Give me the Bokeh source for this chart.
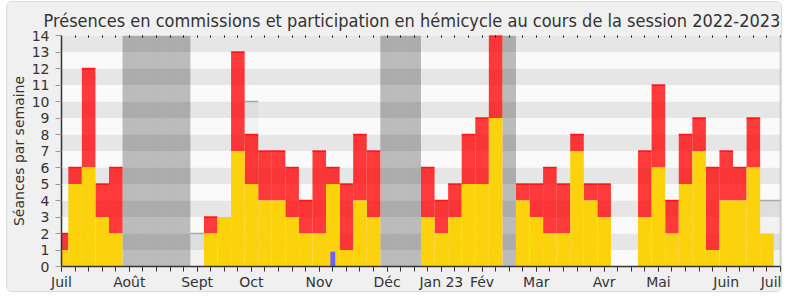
from bokeh.plotting import figure
from bokeh.models import Range1d, FixedTicker, LinearAxis, Span, ColumnDataSource
from bokeh.embed import file_html
from bokeh.resources import INLINE

# ---- data (one entry per week, week 0 = first week of July 2022) ----
weeks = list(range(53))
hemicycle = [1, 5, 6, 3, 2, 0, 0, 0, 0, 0, 0, 2, 3, 7, 5, 4, 4, 3, 2, 2, 5, 1, 4, 3,
             0, 0, 0, 3, 2, 3, 5, 5, 9, 0, 4, 3, 2, 2, 7, 4, 3, 0, 0, 3, 6, 2, 5, 7,
             1, 4, 4, 6, 2]
total = [2, 6, 12, 5, 6, 0, 0, 0, 0, 0, 0, 3, 3, 13, 8, 7, 7, 6, 4, 7, 6, 5, 8, 7,
         0, 0, 0, 6, 4, 5, 8, 9, 14, 0, 5, 5, 6, 5, 8, 5, 5, 0, 0, 7, 11, 4, 8, 9,
         6, 7, 6, 9, 2]
vacation_weeks = [5, 6, 7, 8, 9, 24, 25, 26, 33]
median_weeks = [10, 14, 52, 53]
median_values = [2, 10, 4, 4]
questions_weeks = [20]
questions_values = [0.9]
month_ticks = [0, 5, 10, 14, 19, 24, 28, 31, 35, 40, 44, 49, 53]
month_labels = ["Juil", "Août", "Sept", "Oct", "Nov", "Déc", "Jan 23", "Fév",
                "Mar", "Avr", "Mai", "Juin", "Juil"]
week_ticks = list(range(54))
y_ticks = list(range(15))

FONT = "DejaVu Sans"
TITLE_FONT = "DejaVu Sans Condensed"
TXT = "#333333"

p = figure(width=776, height=291, output_backend="svg", toolbar_location=None,
           x_range=Range1d(0, 53), y_range=Range1d(0, 14),
           min_border_left=54, min_border_right=3, min_border_top=31, min_border_bottom=27,
           border_fill_color="#f0f0f0", background_fill_color="#fafafa",
           outline_line_color=None,
           title="Présences en commissions et participation en hémicycle au cours de la session 2022-2023")
p.styles = {"margin-left": "6px", "margin-top": "1px", "border": "1px solid #dcdcdc",
            "border-radius": "6px", "overflow": "hidden", "background-color": "#f0f0f0"}
p.title.align = "left"
p.title.offset = -18
p.title.text_font = TITLE_FONT
p.title.text_font_size = "18px"
p.title.text_font_style = "normal"
p.title.text_color = TXT

p.xgrid.visible = False
p.ygrid.visible = False

# horizontal bands
band_bottom = y_ticks[:-1]
band_colors = ["#e6e6e6" if b % 2 == 1 else "#fafafa" for b in band_bottom]
p.quad(left=0, right=53, bottom=band_bottom, top=[b + 1 for b in band_bottom],
       fill_color=band_colors, line_color=None, level="underlay")

# median of deputies (visible parts)
p.quad(left=[w - 0.5 for w in median_weeks], right=[w + 0.5 for w in median_weeks],
       bottom=0, top=median_values, fill_color="black", fill_alpha=0.03, line_color=None)
p.segment(x0=[w - 0.5 for w in median_weeks], x1=[w + 0.5 for w in median_weeks],
          y0=median_values, y1=median_values, line_color="#a8a8a8", line_width=1.5)

# vacations
p.quad(left=[w - 0.5 for w in vacation_weeks], right=[w + 0.5 for w in vacation_weeks],
       bottom=0, top=14, fill_color="black", fill_alpha=0.25, line_color=None)

# bars
src = ColumnDataSource(dict(
    left=[w - 0.5 for w in weeks], right=[w + 0.5 for w in weeks],
    hem=hemicycle, tot=total))
p.quad(left="left", right="right", bottom="hem", top="tot", source=src,
       fill_color="#ff0000", fill_alpha=0.77, line_color=None)
red_w = [w for w in weeks if total[w] > hemicycle[w]]
p.segment(x0=[w - 0.5 for w in red_w], x1=[w + 0.5 for w in red_w],
          y0=[total[w] for w in red_w], y1=[total[w] for w in red_w],
          line_color="#ff0000", line_alpha=0.85, line_width=1.5)
p.quad(left="left", right="right", bottom=0, top="hem", source=src,
       fill_color="#fcd20c", line_color=None)

# questions
p.quad(left=[w - 0.18 for w in questions_weeks], right=[w + 0.18 for w in questions_weeks],
       bottom=0, top=questions_values, fill_color="#6666ff", line_color=None)

# right edge
p.add_layout(Span(location=53, dimension="height", line_color="#b4b4b4", line_width=1.5))

# axes
xa = p.xaxis[0]
xa.ticker = FixedTicker(ticks=month_ticks, minor_ticks=week_ticks)
xa.major_label_overrides = {t: l for t, l in zip(month_ticks, month_labels)}
xa.major_tick_out = 5
xa.major_tick_in = 0
xa.minor_tick_out = 5
xa.minor_tick_in = 0
xa.minor_tick_line_color = TXT
xa.major_tick_line_color = TXT
xa.axis_line_color = TXT
xa.axis_line_width = 1.5
xa.major_label_text_font = FONT
xa.major_label_text_font_size = "14px"
xa.major_label_text_color = TXT
xa.major_label_standoff = 2

ya = p.yaxis[0]
ya.ticker = FixedTicker(ticks=y_ticks, minor_ticks=[])
ya.major_tick_out = 6
ya.major_tick_in = 0
ya.minor_tick_line_color = None
ya.major_tick_line_color = "#999999"
ya.axis_line_color = TXT
ya.axis_line_width = 1.5
ya.major_label_text_font = FONT
ya.major_label_text_font_size = "14px"
ya.major_label_text_color = TXT
ya.major_label_standoff = 6
ya.axis_label = "Séances par semaine"
ya.axis_label_text_font = FONT
ya.axis_label_text_font_size = "14px"
ya.axis_label_text_font_style = "normal"
ya.axis_label_text_color = TXT
ya.axis_label_standoff = 2

top_axis = LinearAxis(ticker=FixedTicker(ticks=[], minor_ticks=week_ticks),
                      major_tick_line_color=None,
                      minor_tick_in=2, minor_tick_out=0,
                      minor_tick_line_color="black", minor_tick_line_width=1,
                      axis_line_color=None)
p.add_layout(top_axis, "above")

open("out.html", "w").write(file_html(p, INLINE))
